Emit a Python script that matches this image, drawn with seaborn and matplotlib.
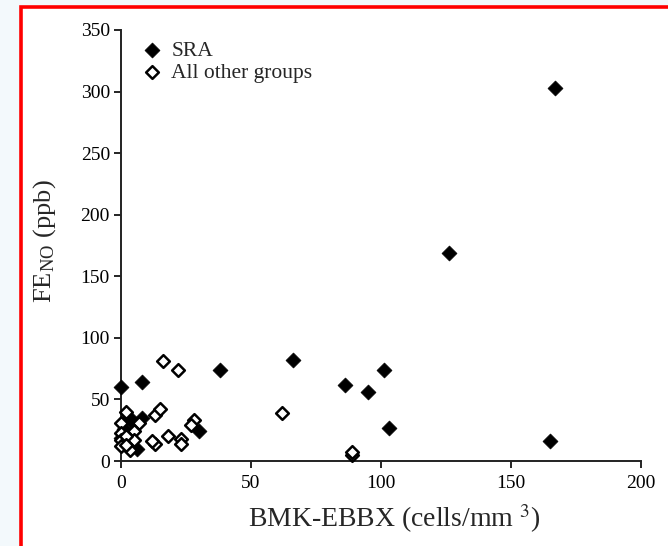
import pandas as pd
import matplotlib
matplotlib.use('Agg')
import matplotlib.pyplot as plt
import seaborn as sns
from matplotlib.patches import Rectangle

# SRA group (filled diamonds)
sra_x = [0, 8, 38, 66, 86, 95, 101, 103, 126, 165, 167, 30, 8, 3, 1, 0, 2, 6, 5]
sra_y = [60, 64, 74, 82, 62, 56, 74, 27, 169, 16, 303, 24, 35, 36, 26, 19, 13, 10, 30]

# all other groups (open diamonds)
other_x = [16, 22, 62, 89, 89, 2, 13, 15, 28, 27, 7, 0, 0, 0, 0, 3.5, 5, 5,
           13, 18, 23, 23, 2, 2, 12]
other_y = [81, 74, 39, 5, 7, 40, 37, 42, 33, 29, 31, 31, 23, 17, 12, 9, 24, 17,
           14, 20, 18, 14, 20, 13, 16]

x_ticks = [0, 50, 100, 150, 200]
y_ticks = [0, 50, 100, 150, 200, 250, 300, 350]

sra = pd.DataFrame({'cells': sra_x, 'feno': sra_y})
other = pd.DataFrame({'cells': other_x, 'feno': other_y})

sns.set_style('ticks')
plt.rcParams['font.family'] = ['Liberation Serif', 'DejaVu Serif']
plt.rcParams['mathtext.fontset'] = 'stix'

fig = plt.figure(figsize=(6.68, 5.46), dpi=100, facecolor='#f3f9fc')
# red frame with white inside
fig.patches.append(Rectangle((20.5 / 668, -0.1), 1.2, 1.1 - 7 / 546,
                             transform=fig.transFigure, facecolor='white',
                             edgecolor='#ff0000', linewidth=2.6, zorder=-10))

ax = fig.add_axes([121 / 668, (546 - 461) / 546, 520 / 668, 431 / 546])
ax.set_facecolor('none')
ax.set_zorder(5)

sns.scatterplot(data=sra, x='cells', y='feno', marker='D', s=58,
                color='black', edgecolor='black', linewidth=0.5,
                label='SRA', ax=ax, zorder=3, clip_on=False)
sns.scatterplot(data=other, x='cells', y='feno', marker='D', s=42,
                facecolor='white', edgecolor='black', linewidth=1.8,
                label='All other groups', ax=ax, zorder=4, clip_on=False)

ax.set_xlim(0, 200)
ax.set_ylim(0, 350)
ax.set_xticks(x_ticks)
ax.set_yticks(y_ticks)
ax.tick_params(direction='out', length=5, width=1.2, labelsize=14, pad=3,
               colors='black')
ax.tick_params(axis='x', pad=5)
for side in ['left', 'bottom']:
    ax.spines[side].set_linewidth(1.4)
    ax.spines[side].set_color('#222222')
sns.despine(ax=ax)

ax.set_xlabel(r'BMK-EBBX (cells/mm $^{3}$)', fontsize=20)
ax.set_ylabel(r'FE$_{\mathregular{NO}}$ (ppb)', fontsize=19)
ax.xaxis.set_label_coords(0.525, -0.095)
ax.yaxis.set_label_coords(-0.122, 0.51)

ax.legend(loc='upper left', bbox_to_anchor=(0.008, 1.005), frameon=False,
          fontsize=15.5, handletextpad=0.25, borderaxespad=0.2,
          labelspacing=0.1, handlelength=1.3)

plt.savefig('out.png', dpi=100, facecolor=fig.get_facecolor())
